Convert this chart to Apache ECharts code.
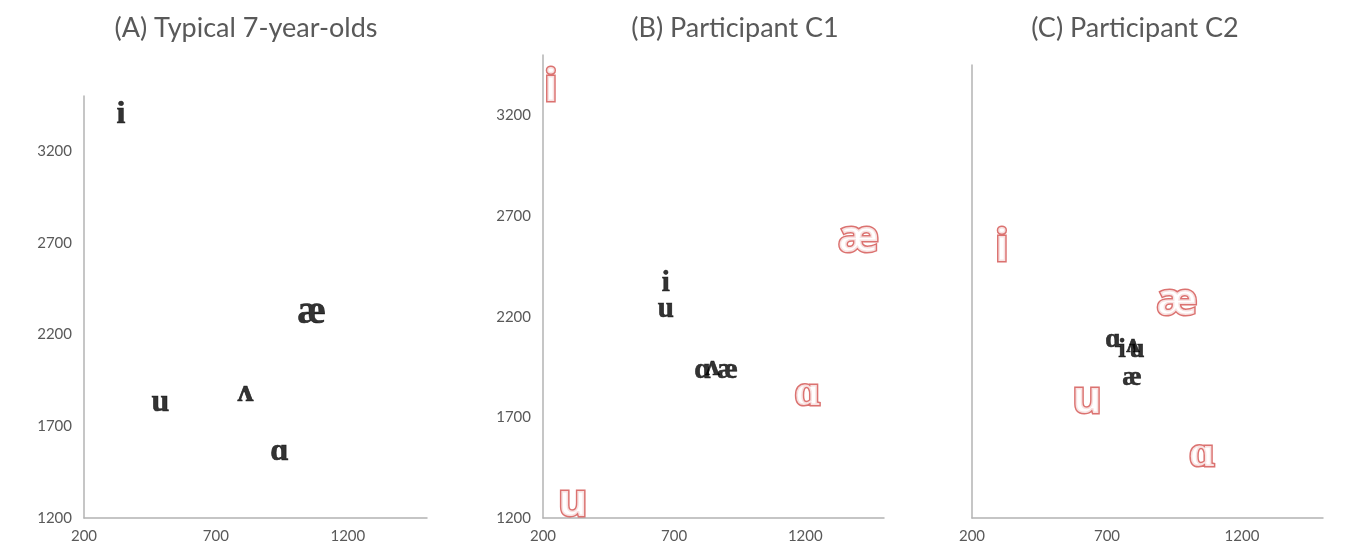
<!DOCTYPE html>
<html><head><meta charset="utf-8">
<script src="https://cdn.jsdelivr.net/npm/echarts@6/dist/echarts.min.js"></script>
<style>html,body{margin:0;padding:0;background:#fff}#c{width:1356px;height:554px}</style>
</head><body><div id="c"></div>
<script>
// Panel titles
const panelTitles = ['(A) Typical 7-year-olds', '(B) Participant C1', '(C) Participant C2'];
// Axis ticks
const xTicks = [200, 700, 1200];
const yTicks = [1200, 1700, 2200, 2700, 3200];
// Panel A: typical 7-year-olds
const aLabels = ['i', 'u', 'ʌ', 'ɑ', 'æ'];
const aX = [340, 490, 812, 941, 1063];
const aY = [3400, 1830, 1885, 1559, 2320];
// Panel B: Participant C1, black series
const bBlackLabels = ['i', 'u', 'ɑ', 'ʌ', 'æ'];
const bBlackX = [668, 668, 808, 846, 903];
const bBlackY = [2363, 2235, 1933, 1948, 1933];
// Panel B: Participant C1, red series
const bRedLabels = ['i', 'u', 'ɑ', 'æ'];
const bRedX = [230, 314, 1208, 1402];
const bRedY = [3334, 1274, 1824, 2586];
// Panel C: Participant C2, black series
const cBlackLabels = ['ɑ', 'i', 'ʌ', 'u', 'æ'];
const cBlackX = [722, 756, 796, 811, 793];
const cBlackY = [2104, 2053, 2078, 2053, 1911];
// Panel C: Participant C2, red series
const cRedLabels = ['i', 'u', 'ɑ', 'æ'];
const cRedX = [311, 626, 1052, 959];
const cRedY = [2571, 1799, 1530, 2297];

const zip = (l, x, y, big) => l.map((n, i) => {
  const d = { name: n, value: [x[i], y[i]] };
  if (big && n === 'æ') d.label = { fontSize: big };
  return d;
});

const grids = [
  { left: 84, top: 96, width: 343, height: 422 },
  { left: 543, top: 55, width: 341, height: 463 },
  { left: 972, top: 65, width: 351, height: 453 }
];
const axisColor = '#b3b3b3';
const tickColor = '#595959';
function xAxis(i) {
  return { gridIndex: i, type: 'value', min: 200, max: 1500, interval: 500,
    axisLine: { show: true, lineStyle: { color: axisColor, width: 1.5 } },
    axisTick: { show: false }, splitLine: { show: false },
    axisLabel: { color: tickColor, fontFamily: 'Lato', fontSize: 15, margin: 11,
      showMaxLabel: false, formatter: v => xTicks.includes(v) ? String(v) : '' } };
}
function yAxis(i, showLabels) {
  return { gridIndex: i, type: 'value', min: 1200, max: 3500, interval: 500,
    axisLine: { show: true, lineStyle: { color: axisColor, width: 1.5 } },
    axisTick: { show: false }, splitLine: { show: false },
    axisLabel: { show: showLabels, color: tickColor, fontFamily: 'Lato', fontSize: 15, margin: 12,
      showMaxLabel: false, formatter: v => yTicks.includes(v) ? String(v) : '' } };
}
const blackLabel = size => ({ show: true, position: 'inside', formatter: '{b}', color: '#000000',
  fontFamily: 'Liberation Serif', fontWeight: 'bold', fontSize: size,
  textBorderColor: '#000000', textBorderWidth: 0.6 });
const redLabel = { show: true, position: 'inside', formatter: '{b}', color: '#ffffff',
  fontFamily: 'Open Sans', fontWeight: 'bold', fontSize: 45, textBorderColor: '#d24f4c', textBorderWidth: 3,
  textShadowColor: 'rgba(168,45,43,0.9)', textShadowBlur: 0, textShadowOffsetX: 1.5, textShadowOffsetY: 1.5 };
function series(i, data, label) {
  return { type: 'scatter', xAxisIndex: i, yAxisIndex: i, symbolSize: 1,
    itemStyle: { color: 'rgba(0,0,0,0)' }, label: label, data: data, z: label === redLabel ? 2 : 3 };
}
const chart = echarts.init(document.getElementById('c'), null, { renderer: 'canvas' });
chart.setOption({
  animation: false,
  title: panelTitles.map((t, i) => ({ text: t, left: [241, 730, 1130][i], top: 10, textAlign: 'center',
    textStyle: { color: '#595959', fontFamily: 'Lato', fontWeight: 'normal', fontSize: 27 } })),
  grid: grids,
  xAxis: [xAxis(0), xAxis(1), xAxis(2)],
  yAxis: [yAxis(0, true), yAxis(1, true), yAxis(2, false)],
  series: [
    series(0, zip(aLabels, aX, aY, 40), blackLabel(32)),
    series(1, zip(bRedLabels, bRedX, bRedY), redLabel),
    series(1, zip(bBlackLabels, bBlackX, bBlackY), blackLabel(29)),
    series(2, zip(cRedLabels, cRedX, cRedY), redLabel),
    series(2, zip(cBlackLabels, cBlackX, cBlackY), blackLabel(27))
  ]
});
</script></body></html>
